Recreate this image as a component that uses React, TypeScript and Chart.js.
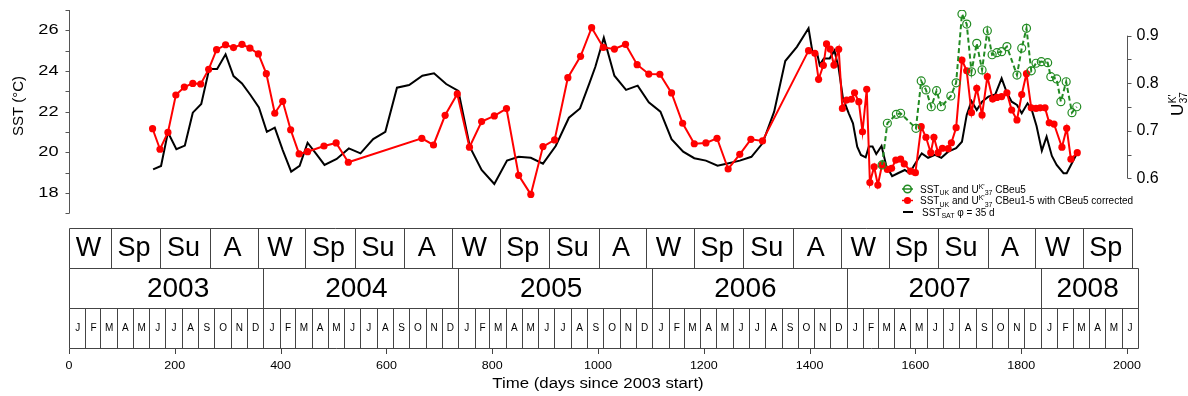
import React, { useEffect, useRef } from 'react';
import { Chart, registerables } from 'chart.js';

Chart.register(...registerables);

// ---------------- data ----------------
const RED_DAYS = [158, 172, 187, 202, 218, 234, 249, 264, 279, 296, 311, 327, 342, 358, 373, 389, 404, 419, 435, 451, 482, 505, 528,
  667, 689, 711, 734, 757, 780, 804, 827, 850, 873, 896, 918, 943, 967, 988,
  1010, 1031, 1052, 1074, 1096, 1117, 1139, 1160, 1182, 1204, 1225, 1246, 1268, 1289, 1311,
  1398, 1410, 1417, 1426, 1432, 1439, 1446, 1455, 1462, 1470, 1479, 1485, 1493, 1500, 1508, 1514, 1522, 1529, 1537,
  1547, 1555, 1563, 1572, 1579, 1591, 1600, 1611, 1620, 1629, 1635, 1643, 1651, 1662, 1668, 1677, 1688, 1697,
  1706, 1716, 1726, 1736, 1746, 1754, 1763, 1773, 1782, 1792, 1801, 1810, 1819, 1828, 1836, 1845, 1853, 1862,
  1877, 1886, 1894, 1906];
const RED_SST = [21.16, 20.15, 20.98, 22.82, 23.21, 23.39, 23.36, 24.08, 25.05, 25.29, 25.15, 25.31, 25.12, 24.84, 23.87, 21.92, 22.51, 21.11, 19.92, 20.03, 20.31, 20.46, 19.51,
  20.69, 20.36, 21.82, 22.87, 20.25, 21.51, 21.79, 22.15, 18.87, 17.93, 20.28, 20.61, 23.67, 24.72, 26.13,
  25.16, 25.08, 25.31, 24.31, 23.85, 23.84, 22.92, 21.43, 20.42, 20.46, 20.69, 19.18, 19.90, 20.64, 20.56,
  25.0, 24.87, 23.59, 24.28, 25.33, 25.08, 24.29, 25.07, 22.16, 22.57, 22.61, 22.93, 22.49, 21.01, 23.10, 18.51, 19.29, 18.39, 19.38,
  19.16, 19.21, 19.62, 19.66, 19.43, 19.07, 19.0, 21.26, 20.74, 19.98, 20.74, 19.98, 20.20, 20.18, 20.47, 21.21, 24.54, 24.01,
  21.95, 23.15, 21.84, 23.72, 22.62, 22.70, 22.74, 22.93, 22.08, 21.59, 22.84, 23.87, 22.19, 22.16, 22.19, 22.19, 21.45, 21.39,
  20.25, 21.18, 19.66, 19.98];

const GREEN_DAYS = [1537, 1547, 1564, 1572, 1601, 1611, 1620, 1630, 1640, 1649, 1667, 1677, 1688, 1697, 1706, 1716, 1726, 1736,
  1745, 1754, 1763, 1773, 1792, 1801, 1810, 1819, 1828, 1838, 1850, 1856, 1867, 1875, 1885, 1896, 1905];
const GREEN_SST = [19.38, 21.43, 21.87, 21.92, 21.18, 23.51, 23.07, 22.24, 23.03, 22.24, 22.77, 23.42, 26.80, 26.31, 23.96, 25.36, 24.05, 25.98,
  24.8, 24.9, 24.95, 25.2, 23.80, 25.12, 26.10, 24.01, 24.38, 24.46, 24.41, 23.72, 23.61, 22.49, 23.47, 21.95, 22.24];

const SAT_DAYS = [159, 174, 187, 203, 219, 234, 250, 265, 280, 296, 311, 327, 343, 359, 374, 389, 404, 420, 436, 451, 468, 483, 506, 529, 551,
  575, 598, 620, 643, 668, 690, 713, 736, 758, 780, 804, 828, 850, 873, 896, 920, 945, 966, 984, 995,
  1011, 1031, 1053, 1075, 1096, 1118, 1139, 1161, 1182, 1204, 1226, 1247, 1268, 1290, 1311, 1333, 1354, 1376, 1398,
  1405, 1414, 1419, 1427, 1438, 1447, 1455, 1463, 1474, 1482, 1490, 1497, 1506, 1512, 1519, 1526, 1536, 1545, 1556, 1567, 1580, 1589, 1598,
  1612, 1624, 1637, 1649, 1662, 1677, 1688, 1697, 1706, 1716, 1726, 1738, 1751, 1763, 1773, 1782, 1792, 1801, 1812, 1820, 1829, 1839,
  1848, 1858, 1867, 1880, 1886, 1907];
const SAT_SST = [19.16, 19.33, 20.98, 20.15, 20.33, 21.95, 22.38, 24.10, 24.10, 24.82, 23.75, 23.39, 22.82, 22.21, 21.01, 21.21, 20.11, 19.05, 19.33, 20.47, 19.90, 19.38, 19.67, 20.19, 19.95,
  20.65, 21.01, 23.18, 23.31, 23.77, 23.89, 23.36, 23.02, 20.25, 19.13, 18.44, 19.59, 19.78, 19.73, 19.44, 20.31, 21.70, 22.16, 23.42, 24.21,
  25.64, 23.77, 23.07, 23.28, 22.46, 22.00, 20.65, 20.03, 19.71, 19.59, 19.34, 19.46, 19.59, 19.78, 20.44, 22.00, 24.49, 25.19, 26.10,
  25.0, 24.9, 24.3, 24.62, 24.62, 25.0, 24.13, 22.66, 21.92, 21.43, 20.28, 19.87, 19.75, 20.28, 20.28, 19.92, 20.31, 19.33, 18.83, 18.97, 19.13, 18.97, 19.38,
  19.95, 19.73, 19.87, 19.73, 20.03, 20.20, 20.52, 21.84, 22.52, 22.08, 22.49, 22.74, 22.85, 23.64, 22.93, 22.49, 22.33, 21.92, 22.41, 22.08, 21.29, 20.08,
  20.77, 19.82, 19.38, 18.97, 18.97, 20.03];

const SST_MAJOR = [18, 20, 22, 24, 26];
const SST_MINOR = [17, 19, 21, 23, 25, 27];
const UK_MAJOR = [0.6, 0.7, 0.8, 0.9];
const UK_MINOR = [0.65, 0.75, 0.85];
const DAY_TICKS = [0, 200, 400, 600, 800, 1000, 1200, 1400, 1600, 1800, 2000];

const SEASON_LABELS = ['W', 'Sp', 'Su', 'A', 'W', 'Sp', 'Su', 'A', 'W', 'Sp', 'Su', 'A', 'W', 'Sp', 'Su', 'A', 'W', 'Sp', 'Su', 'A', 'W', 'Sp'];
const SEASON_BOUNDS = [0, 79, 171, 265, 355, 444, 537, 630, 720, 809, 902, 995, 1085, 1174, 1267, 1361, 1451, 1540, 1632, 1726, 1816, 1905, 1997];
const YEAR_LABELS = ['2003', '2004', '2005', '2006', '2007', '2008'];
const YEAR_BOUNDS = [0, 365, 731, 1096, 1461, 1826, 2008];
const YEAR_LABEL_DAYS = [205, 540, 906, 1271, 1636, 1914];
const MONTH_LETTERS = ['J', 'F', 'M', 'A', 'M', 'J', 'J', 'A', 'S', 'O', 'N', 'D'];

// ---------------- layout constants ----------------
const W = 1188;
const H = 396;
const FONT = '"Liberation Sans", Arial, Helvetica, sans-serif';
const Y_MIN = 10.374;
const Y_MAX = 27;
const U_MIN = 0.2432;
const U_MAX = 0.954;
const ROW_TOP = 227.5;
const ROW1 = 268;
const ROW2 = 308;
const ROW_BOT = 348;
const TABLE_SCALE = 1.006;

function monthBounds(): { b: number[]; l: string[] } {
  const b = [0];
  const l: string[] = [];
  let d = 0;
  for (let y = 2003; y <= 2008; y++) {
    for (let m = 0; m < 12; m++) {
      if (y === 2008 && m >= 6) break;
      d += new Date(Date.UTC(y, m + 1, 0)).getUTCDate();
      b.push(d);
      l.push(MONTH_LETTERS[m]);
    }
  }
  return { b, l };
}

function txt(ctx: CanvasRenderingContext2D, s: string, x: number, y: number, size: number,
  align: 'left' | 'center' | 'right', stretch = 1, base: CanvasTextBaseline = 'middle') {
  ctx.save();
  ctx.font = `${size}px ${FONT}`;
  ctx.textBaseline = base;
  ctx.textAlign = 'left';
  const w = ctx.measureText(s).width * stretch;
  const x0 = align === 'left' ? x : align === 'center' ? x - w / 2 : x - w;
  ctx.translate(x0, y);
  ctx.scale(stretch, 1);
  ctx.fillStyle = '#000';
  ctx.fillText(s, 0, 0);
  ctx.restore();
}

type Part = { s: string; size: number; dy: number };
function rich(ctx: CanvasRenderingContext2D, parts: Part[], x: number, y: number) {
  ctx.save();
  ctx.textBaseline = 'alphabetic';
  ctx.textAlign = 'left';
  ctx.fillStyle = '#000';
  let cx = x;
  for (const p of parts) {
    ctx.font = `${p.size}px ${FONT}`;
    ctx.fillText(p.s, cx, y + p.dy);
    cx += ctx.measureText(p.s).width;
  }
  ctx.restore();
}

const overlay = {
  id: 'overlay',
  afterDraw(chart: any) {
    const ctx: CanvasRenderingContext2D = chart.ctx;
    const xs = chart.scales.x;
    const ys = chart.scales.y;
    const us = chart.scales.y2;
    const X = (d: number) => xs.getPixelForValue(d);
    const XT = (d: number) => xs.getPixelForValue(d * TABLE_SCALE);
    const Y = (t: number) => ys.getPixelForValue(t);
    const U = (u: number) => us.getPixelForValue(u);
    const left = chart.chartArea.left;
    const right = chart.chartArea.right;

    ctx.save();
    ctx.strokeStyle = '#555';
    ctx.lineWidth = 1;
    // left axis
    const lx = Math.round(left) + 0.5;
    ctx.beginPath();
    ctx.moveTo(lx, Y(27));
    ctx.lineTo(lx, Y(17));
    [...SST_MAJOR, ...SST_MINOR].forEach((t) => {
      const y = Math.round(Y(t)) + 0.5;
      ctx.moveTo(lx, y);
      ctx.lineTo(lx - 4, y);
    });
    ctx.stroke();
    // right axis
    const rx = Math.round(right) + 0.5;
    ctx.beginPath();
    ctx.moveTo(rx, U(0.9));
    ctx.lineTo(rx, U(0.6));
    [...UK_MAJOR, ...UK_MINOR].forEach((u) => {
      const y = Math.round(U(u)) + 0.5;
      ctx.moveTo(rx, y);
      ctx.lineTo(rx + 4, y);
    });
    ctx.stroke();
    ctx.restore();

    SST_MAJOR.forEach((t) => txt(ctx, String(t), lx - 11, Y(t), 14, 'right', 1.3));
    UK_MAJOR.forEach((u) => txt(ctx, u.toFixed(1), rx + 9, U(u), 16, 'left', 1.0));

    // left title
    ctx.save();
    ctx.translate(18.5, 106);
    ctx.rotate(-Math.PI / 2);
    txt(ctx, 'SST (°C)', 0, 0, 15, 'center', 1.0);
    ctx.restore();

    // right title U^K'_37
    ctx.save();
    ctx.translate(1183, 116);
    ctx.rotate(-Math.PI / 2);
    ctx.fillStyle = '#000';
    ctx.textBaseline = 'alphabetic';
    ctx.font = `17px ${FONT}`;
    ctx.fillText('U', 0, 0);
    const uw = ctx.measureText('U').width;
    ctx.font = `10px ${FONT}`;
    ctx.fillText("K'", uw + 0.5, -7);
    ctx.fillText('37', uw + 0.5, 4);
    ctx.restore();

    // tables
    const mb = monthBounds();
    ctx.save();
    ctx.strokeStyle = '#444';
    ctx.lineWidth = 1;
    const px = (v: number) => Math.round(v) + 0.5;
    const row = (bounds: number[], top: number, bot: number) => {
      ctx.beginPath();
      ctx.moveTo(px(XT(bounds[0])), px(top));
      ctx.lineTo(px(XT(bounds[bounds.length - 1])), px(top));
      ctx.moveTo(px(XT(bounds[0])), px(bot));
      ctx.lineTo(px(XT(bounds[bounds.length - 1])), px(bot));
      bounds.forEach((b) => {
        ctx.moveTo(px(XT(b)), px(top));
        ctx.lineTo(px(XT(b)), px(bot));
      });
      ctx.stroke();
    };
    row(SEASON_BOUNDS, ROW_TOP, ROW1);
    row(YEAR_BOUNDS, ROW1, ROW2);
    row(mb.b, ROW2, ROW_BOT);
    // x-axis ticks
    ctx.beginPath();
    DAY_TICKS.forEach((d) => {
      ctx.moveTo(px(X(d)), px(ROW_BOT));
      ctx.lineTo(px(X(d)), ROW_BOT + 6);
    });
    ctx.stroke();
    ctx.restore();

    SEASON_LABELS.forEach((s, i) => {
      txt(ctx, s, (XT(SEASON_BOUNDS[i]) + XT(SEASON_BOUNDS[i + 1])) / 2 - 1.5, (ROW_TOP + ROW1) / 2 + 1, 27, 'center');
    });
    YEAR_LABELS.forEach((s, i) => {
      txt(ctx, s, XT(YEAR_LABEL_DAYS[i]), (ROW1 + ROW2) / 2 + 1, 28, 'center');
    });
    mb.l.forEach((s, i) => {
      txt(ctx, s, (XT(mb.b[i]) + XT(mb.b[i + 1])) / 2 + 0.5, (ROW2 + ROW_BOT) / 2 + 0.5, 10, 'center');
    });
    DAY_TICKS.forEach((d) => txt(ctx, String(d), X(d), 366, 10, 'center', 1.25));
    txt(ctx, 'Time (days since 2003 start)', (X(0) + X(2000)) / 2, 384, 14, 'center', 1.2);

    // legend
    const sx0 = 902;
    const sx1 = 913;
    const tx = 920;
    const r1 = 189;
    const r2 = 200.5;
    const r3 = 212;
    ctx.save();
    ctx.lineWidth = 1.5;
    ctx.strokeStyle = '#228B22';
    ctx.beginPath();
    ctx.moveTo(sx0, r1);
    ctx.lineTo(sx1, r1);
    ctx.stroke();
    ctx.beginPath();
    ctx.arc((sx0 + sx1) / 2, r1, 3.8, 0, Math.PI * 2);
    ctx.stroke();
    ctx.strokeStyle = '#FF0000';
    ctx.fillStyle = '#FF0000';
    ctx.beginPath();
    ctx.moveTo(sx0, r2);
    ctx.lineTo(sx1, r2);
    ctx.stroke();
    ctx.beginPath();
    ctx.arc((sx0 + sx1) / 2, r2, 3.6, 0, Math.PI * 2);
    ctx.fill();
    ctx.strokeStyle = '#000';
    ctx.lineWidth = 2;
    ctx.beginPath();
    ctx.moveTo(sx0 + 1, r3);
    ctx.lineTo(sx1, r3);
    ctx.stroke();
    ctx.restore();

    const ukParts = (tail: string): Part[] => [
      { s: 'SST', size: 10, dy: 0 },
      { s: 'UK', size: 7, dy: 2.5 },
      { s: ' and U', size: 10, dy: 0 },
      { s: "K'", size: 7, dy: -4 },
      { s: '37', size: 7, dy: 2.5 },
      { s: tail, size: 10, dy: 0 },
    ];
    rich(ctx, ukParts(' CBeu5'), tx, r1 + 3.5);
    rich(ctx, ukParts(' CBeu1-5 with CBeu5 corrected'), tx, r2 + 3.5);
    rich(ctx, [
      { s: 'SST', size: 10, dy: 0 },
      { s: 'SAT', size: 7, dy: 2.5 },
      { s: ' φ = 35 d', size: 10, dy: 0 },
    ], tx + 2, r3 + 3.5);
  },
};

export default function App() {
  const ref = useRef<HTMLCanvasElement | null>(null);
  useEffect(() => {
    document.body.style.margin = '0';
    const canvas = ref.current;
    if (!canvas) return;
    const toXY = (xs: number[], ys: number[]) => xs.map((x, i) => ({ x, y: ys[i] }));
    const chart = new Chart(canvas, {
      type: 'line',
      data: {
        datasets: [
          {
            label: 'SST_UK and U37 CBeu5',
            data: toXY(GREEN_DAYS, GREEN_SST),
            borderColor: '#228B22',
            borderWidth: 2,
            borderDash: [5, 3],
            pointRadius: 4,
            pointBorderWidth: 1.2,
            pointBorderColor: '#228B22',
            pointBackgroundColor: 'rgba(0,0,0,0)',
            tension: 0,
            order: 0,
          },
          {
            label: 'SST_UK and U37 CBeu1-5 with CBeu5 corrected',
            data: toXY(RED_DAYS, RED_SST),
            borderColor: '#FF0000',
            borderWidth: 2,
            pointRadius: 3.6,
            pointBorderWidth: 0,
            pointBackgroundColor: '#FF0000',
            tension: 0,
            order: 1,
          },
          {
            label: 'SST_SAT phi = 35 d',
            data: toXY(SAT_DAYS, SAT_SST),
            borderColor: '#000000',
            borderWidth: 2,
            pointRadius: 0,
            tension: 0,
            order: 2,
          },
        ],
      },
      options: {
        animation: false,
        responsive: false,
        devicePixelRatio: 1,
        layout: { autoPadding: false, padding: { left: 69, right: W - 1127, top: 10, bottom: H - ROW_BOT } },
        plugins: { legend: { display: false }, tooltip: { enabled: false } },
        events: [],
        scales: {
          x: { type: 'linear', min: 0, max: 2000, display: false },
          y: { type: 'linear', min: Y_MIN, max: Y_MAX, display: false },
          y2: { type: 'linear', min: U_MIN, max: U_MAX, display: false, position: 'right' },
        },
      },
      plugins: [overlay],
    });
    return () => chart.destroy();
  }, []);
  return (
    <div style={{ position: 'absolute', left: 0, top: 0, width: W, height: H, background: '#fff' }}>
      <canvas ref={ref} width={W} height={H} style={{ display: 'block', width: W, height: H }} />
    </div>
  );
}
